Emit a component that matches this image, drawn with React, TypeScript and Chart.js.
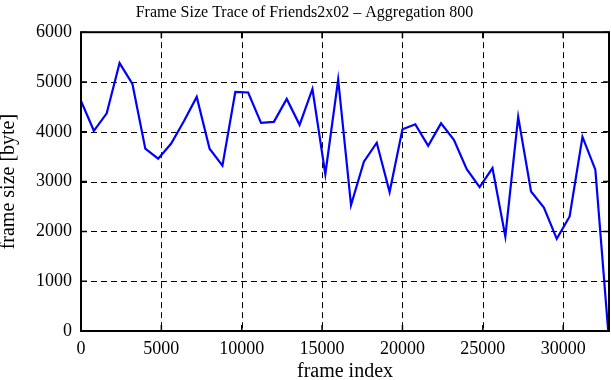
import React, { useEffect, useRef } from "react";
import { Chart, registerables } from "chart.js";

Chart.register(...registerables);

const frameIndex = [
  0, 800, 1600, 2400, 3200, 4000, 4800, 5600, 6400, 7200,
  8000, 8800, 9600, 10400, 11200, 12000, 12800, 13600, 14400, 15200,
  16000, 16800, 17600, 18400, 19200, 20000, 20800, 21600, 22400, 23200,
  24000, 24800, 25600, 26400, 27200, 28000, 28800, 29600, 30400, 31200,
  32000, 32800,
];
const frameSize = [
  4620, 4020, 4370, 5380, 4960, 3660, 3460, 3760, 4210, 4700,
  3660, 3320, 4800, 4790, 4180, 4200, 4660, 4140, 4860, 3150,
  5050, 2530, 3400, 3780, 2790, 4050, 4150, 3720, 4170, 3840,
  3250, 2890, 3270, 1900, 4300, 2800, 2480, 1850, 2300, 3900,
  3240, 0,
];
const xTicks = [0, 5000, 10000, 15000, 20000, 25000, 30000];
const yTicks = [0, 1000, 2000, 3000, 4000, 5000, 6000];
const titleText = "Frame Size Trace of Friends2x02 \u2013 Aggregation 800";
const xTitle = "frame index";
const yTitle = "frame size [byte]";

const FONT = "'Liberation Serif', 'DejaVu Serif', serif";

const framePlugin = {
  id: "framePlugin",
  beforeDatasetsDraw(chart: any) {
    const { ctx, chartArea: a, scales } = chart;
    ctx.save();
    ctx.strokeStyle = "#000";
    ctx.lineWidth = 1;
    ctx.setLineDash([6, 4]);
    xTicks.forEach((v) => {
      const px = Math.round(scales.x.getPixelForValue(v)) + 0.5;
      if (px <= a.left + 1 || px >= a.right - 1) return;
      ctx.beginPath();
      ctx.moveTo(px, a.top);
      ctx.lineTo(px, a.bottom);
      ctx.stroke();
    });
    yTicks.forEach((v) => {
      const py = Math.round(scales.y.getPixelForValue(v)) + 0.5;
      if (py <= a.top + 1 || py >= a.bottom - 1) return;
      ctx.beginPath();
      ctx.moveTo(a.left, py);
      ctx.lineTo(a.right, py);
      ctx.stroke();
    });
    ctx.restore();
  },
  afterDatasetsDraw(chart: any) {
    const { ctx, chartArea: a, scales } = chart;
    ctx.save();
    ctx.strokeStyle = "#000";
    ctx.setLineDash([]);
    ctx.lineWidth = 2;
    ctx.strokeRect(a.left, a.top, a.right - a.left, a.bottom - a.top);
    const t = 6;
    ctx.lineWidth = 1.5;
    xTicks.forEach((v) => {
      const px = scales.x.getPixelForValue(v);
      ctx.beginPath();
      ctx.moveTo(px, a.bottom);
      ctx.lineTo(px, a.bottom - t);
      ctx.moveTo(px, a.top);
      ctx.lineTo(px, a.top + t);
      ctx.stroke();
    });
    yTicks.forEach((v) => {
      const py = scales.y.getPixelForValue(v);
      ctx.beginPath();
      ctx.moveTo(a.left, py);
      ctx.lineTo(a.left + t, py);
      ctx.moveTo(a.right, py);
      ctx.lineTo(a.right - t, py);
      ctx.stroke();
    });
    ctx.restore();
  },
};

export default function App() {
  const ref = useRef<HTMLCanvasElement | null>(null);
  useEffect(() => {
    document.body.style.margin = "0";
    const canvas = ref.current;
    if (!canvas) return;
    const chart = new Chart(canvas, {
      type: "line",
      data: {
        datasets: [
          {
            data: frameIndex.map((x, i) => ({ x, y: frameSize[i] })),
            borderColor: "#0000ff",
            borderWidth: 2.2,
            pointRadius: 0,
            fill: false,
            tension: 0,
          },
        ],
      },
      options: {
        responsive: false,
        animation: false,
        layout: { padding: { left: 0, right: 2, top: 0, bottom: 0 } },
        plugins: {
          legend: { display: false },
          tooltip: { enabled: false },
          title: {
            display: true,
            text: titleText,
            color: "#000",
            font: { family: FONT, size: 16, weight: "normal" },
            padding: { top: 3, bottom: 10 },
          },
        },
        scales: {
          x: {
            type: "linear",
            min: 0,
            max: 32850,
            afterBuildTicks: (s: any) => {
              s.ticks = xTicks.map((v) => ({ value: v }));
            },
            afterFit: (s: any) => {
              s.height = 49;
            },
            grid: { display: false, drawTicks: false },
            border: { display: false },
            ticks: {
              color: "#000",
              font: { family: FONT, size: 18 },
              padding: 7,
              maxRotation: 0,
              autoSkip: false,
              callback: (v: any) => String(v),
            },
            title: {
              display: true,
              text: xTitle,
              color: "#000",
              font: { family: FONT, size: 20 },
              padding: { top: 0, bottom: -4 },
            },
          },
          y: {
            min: 0,
            max: 6000,
            afterBuildTicks: (s: any) => {
              s.ticks = yTicks.map((v) => ({ value: v }));
            },
            afterFit: (s: any) => {
              s.width = 81;
            },
            grid: { display: false, drawTicks: false },
            border: { display: false },
            ticks: {
              color: "#000",
              font: { family: FONT, size: 18 },
              padding: 9,
              autoSkip: false,
              callback: (v: any) => String(v),
            },
            title: {
              display: true,
              text: yTitle,
              color: "#000",
              font: { family: FONT, size: 20 },
              padding: { top: -3, bottom: 0 },
            },
          },
        },
      },
      plugins: [framePlugin],
    });
    return () => chart.destroy();
  }, []);
  return (
    <div style={{ width: 611, height: 380, background: "#fff" }}>
      <canvas ref={ref} width={611} height={380} />
    </div>
  );
}
